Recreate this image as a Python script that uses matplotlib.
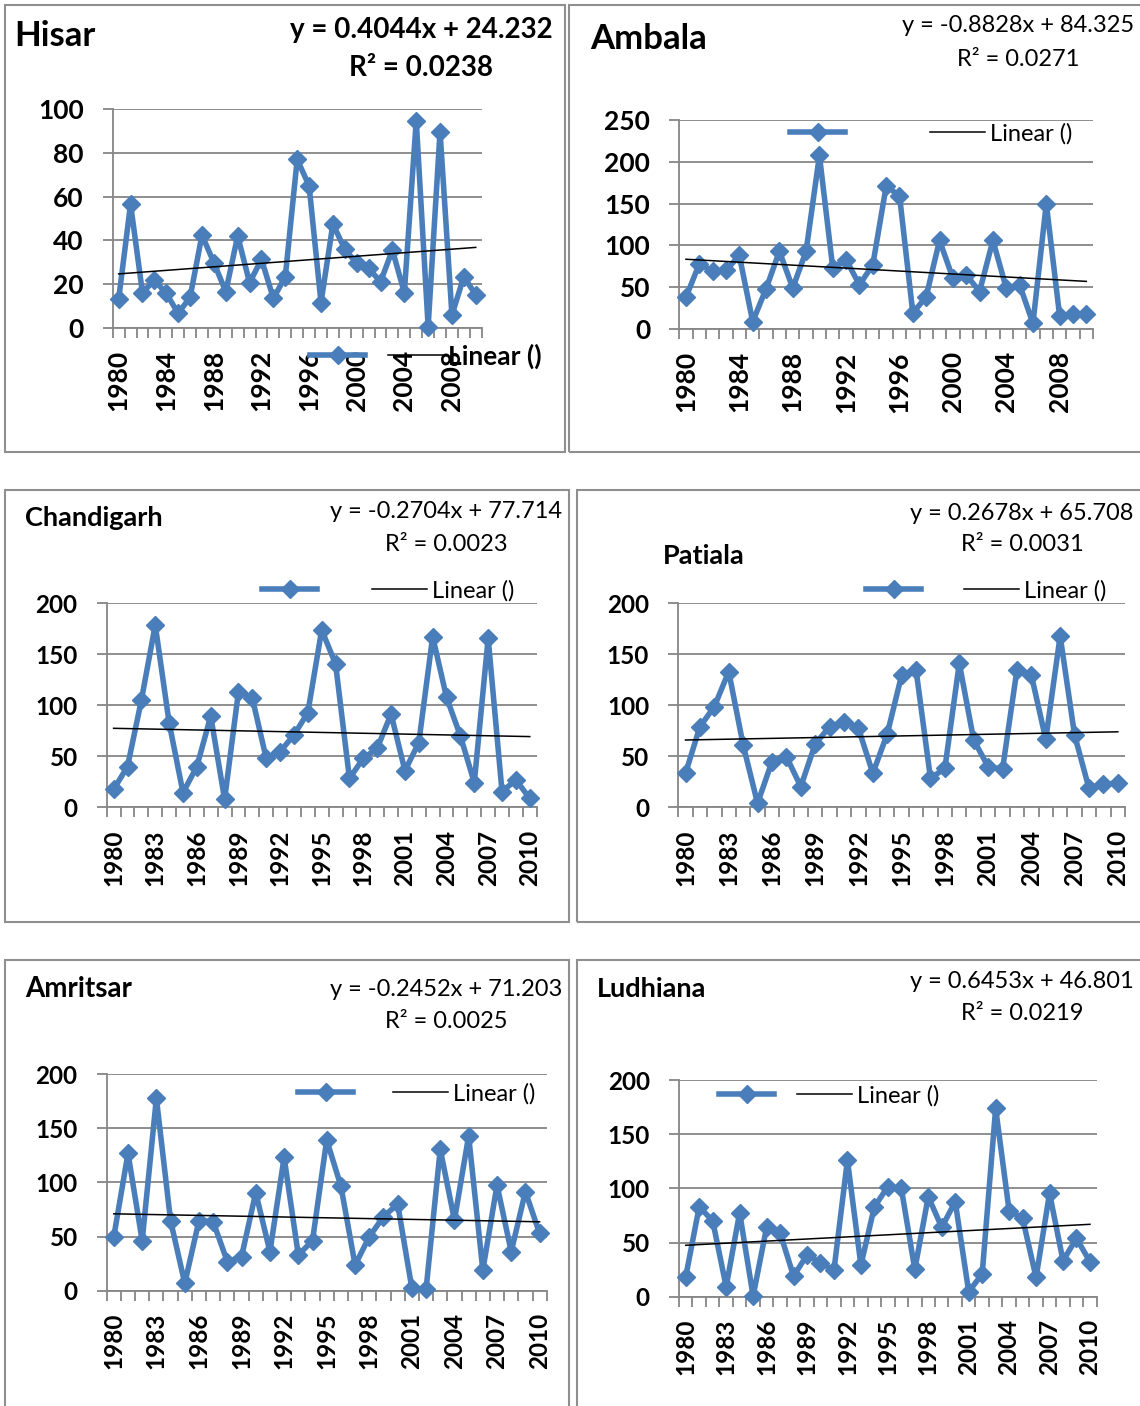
import numpy as np
import matplotlib
matplotlib.use('Agg')
import matplotlib.pyplot as plt
from matplotlib.lines import Line2D
from matplotlib.patches import Rectangle

W, H = 1140, 1406

# rainfall per station, 1980-2010
years = list(range(1980, 2011))
hisar = [13, 56.6, 16, 21.8, 15.7, 6.6, 13.9, 42.4, 29.8, 16.5, 42, 20.6, 31.3, 13.4, 23.4, 77.1,
         64.9, 11.5, 47.5, 35.9, 29.5, 27.2, 21, 35.6, 16, 94.8, 0.5, 89.8, 5.8, 23.4, 15]
ambala = [38, 78, 69, 70, 88, 8.8, 48, 93, 49, 93, 207.6, 72.8, 82.8, 52.8, 76.8, 170.8,
          159.6, 18.8, 38.8, 106, 60.8, 64.8, 44.8, 106, 48.8, 52.8, 6.8, 150, 15.6, 18, 18]
chandigarh = [17.6, 39.9, 105, 178.8, 83, 14.4, 39.9, 89.5, 7.8, 113.4, 106.9, 48, 54.6, 70.9, 92.8, 173.9,
              140.5, 28.4, 48, 57.8, 91.5, 35.9, 63.4, 167.3, 107.8, 69.9, 24.2, 165.7, 15.4, 26.8, 8.8]
patiala = [33.3, 79, 98.7, 133, 61.1, 3.9, 44.8, 49.7, 20.3, 62.1, 79, 84, 77.5, 33.3, 71.9, 129.7,
           134.6, 28.4, 38.2, 141.2, 66, 39.9, 37.3, 134.6, 129.7, 66.7, 168, 70.9, 18.6, 22.9, 23.5]
amritsar = [49.8, 126.8, 46.2, 177.5, 64.6, 6.8, 64.6, 63.7, 26.8, 31.4, 90.5, 36, 123, 32.9, 46.2, 139,
            96.6, 23.7, 49.8, 68.3, 80, 2.2, 1.2, 130.5, 65.2, 142.8, 19, 97.5, 36, 91.4, 52.9]
ludhiana = [18.5, 83, 70, 9.2, 77.5, 0.6, 64, 59, 19, 38.5, 31.4, 24.6, 126, 29.2, 83, 101.5,
            100, 25.2, 92.3, 64, 87.7, 4.6, 20.9, 173.8, 79.4, 72.3, 17.8, 95.4, 33.2, 53.8, 32.3]

stations = ['Hisar', 'Ambala', 'Chandigarh', 'Patiala', 'Amritsar', 'Ludhiana']
series = [hisar, ambala, chandigarh, patiala, amritsar, ludhiana]
slopes = [0.4044, -0.8828, -0.2704, 0.2678, -0.2452, 0.6453]
intercepts = [24.232, 84.325, 77.714, 65.708, 71.203, 46.801]
r_squared = ['0.0238', '0.0271', '0.0023', '0.0031', '0.0025', '0.0219']
y_max = [100, 250, 200, 200, 200, 200]
y_step = [20, 50, 50, 50, 50, 50]
label_every = [4, 4, 3, 3, 3, 3]

# layout, in pixels of the 1140x1406 picture
frames = [(5, 5, 565, 452), (569, 5, 1145, 452), (5, 490, 569, 922),
          (577, 490, 1145, 922), (5, 960, 569, 1412), (577, 960, 1145, 1412)]
plot_areas = [(112.7, 109.3, 481.7, 327.7), (679.3, 120, 1093, 329), (106.7, 603.3, 536.7, 807.3),
              (678.3, 603.3, 1125, 807.3), (106.7, 1074, 546.7, 1290.7), (679, 1080, 1096.7, 1296.7)]
title_pos = [(14, 36), (590, 39), (25, 518), (663, 556), (25, 989), (597, 989)]
title_size = [25, 25, 19.5, 19.5, 20, 19.5]
eq_pos = [(421, 30, 68), (1018, 26, 59), (446, 511, 544), (1022, 514, 545), (446, 989, 1021), (1022, 982, 1014)]
eq_size = [20, 17, 17, 17, 17, 17]
eq_bold = [True, False, False, False, False, False]
# legend: blue sample start, black sample start, centre y
leg_pos = [(310, 388, 356), (790, 930, 134), (262, 372, 591), (866, 964, 591), (298, 393, 1094), (719, 797, 1096)]
leg_size = [19, 17, 17, 17, 17, 17]
tick_size = [19, 19, 17.5, 17.5, 17.5, 17.5]

BLUE = '#4A7EBB'
GRID = '#868686'
plt.rcParams['font.family'] = ['Lato', 'DejaVu Sans']


def rect(x0, y0, x1, y1):
    return [x0 / W, 1 - y1 / H, (x1 - x0) / W, (y1 - y0) / H]


fig = plt.figure(figsize=(W / 100, H / 100), dpi=100)

for i, name in enumerate(stations):
    x0, y0, x1, y1 = frames[i]
    fig.patches.append(Rectangle((x0 / W, 1 - y1 / H), (x1 - x0) / W, (y1 - y0) / H,
                                 transform=fig.transFigure, fill=False,
                                 edgecolor='#8f8f8f', lw=1.5))

    ax = fig.add_axes(rect(*plot_areas[i]))
    vals = np.array(series[i])
    n = len(vals)
    idx = np.arange(n)

    ax.plot(idx, vals, color=BLUE, lw=4, marker='D', ms=9, mew=1, clip_on=False, zorder=3)
    trend = slopes[i] * (idx + 1) + intercepts[i]
    ax.plot(idx, trend, color='black', lw=1.1, zorder=4)

    ax.set_xlim(-0.5, n - 0.5)
    ax.set_ylim(0, y_max[i])
    ax.set_yticks(np.arange(0, y_max[i] + 1, y_step[i]))
    ax.set_xticks(idx[::label_every[i]])
    ax.set_xticklabels([str(years[k]) for k in idx[::label_every[i]]], rotation=90,
                       fontsize=tick_size[i], fontweight='bold')
    ax.set_xticks(np.arange(-0.5, n, 1), minor=True)
    for lab in ax.get_yticklabels():
        lab.set_fontsize(tick_size[i])
        lab.set_fontweight('bold')
    ax.tick_params(axis='x', which='major', length=0, pad=16)
    ax.tick_params(axis='x', which='minor', length=7, color=GRID, width=1.3)
    ax.tick_params(axis='y', length=7, color=GRID, width=1.3, pad=14)
    ax.yaxis.grid(True, color=GRID, lw=1.3)
    ax.set_axisbelow(True)
    for s in ['top', 'right']:
        ax.spines[s].set_visible(False)
    for s in ['left', 'bottom']:
        ax.spines[s].set_color(GRID)
        ax.spines[s].set_linewidth(1.3)

    tx, ty = title_pos[i]
    fig.text(tx / W, 1 - ty / H, name, fontsize=title_size[i], fontweight='bold',
             ha='left', va='center')

    ex, ey1, ey2 = eq_pos[i]
    sign = '-' if slopes[i] < 0 else ''
    w = 'bold' if eq_bold[i] else 'normal'
    fig.text(ex / W, 1 - ey1 / H, 'y = %s%.4fx + %.3f' % (sign, abs(slopes[i]), intercepts[i]),
             fontsize=eq_size[i], fontweight=w, ha='center', va='center')
    fig.text(ex / W, 1 - ey2 / H, 'R² = ' + r_squared[i],
             fontsize=eq_size[i], fontweight=w, ha='center', va='center')

    bx, kx, ly = leg_pos[i]
    fs_px = leg_size[i] * 100 / 72
    hl = 55 / fs_px
    cs = (kx - bx - 55 - 0.2 * fs_px) / fs_px
    handles = [Line2D([], [], color=BLUE, lw=4, marker='D', ms=9),
               Line2D([], [], color='black', lw=1.1)]
    leg = ax.legend(handles, ['', 'Linear ()'], loc='center left',
                    bbox_to_anchor=(bx / W, 1 - ly / H), bbox_transform=fig.transFigure,
                    ncol=2, frameon=False, borderpad=0, borderaxespad=0,
                    handlelength=hl, handletextpad=0.2, columnspacing=cs,
                    prop={'size': leg_size[i], 'weight': 'bold' if i == 0 else 'normal'})
    leg.set_zorder(5)

fig.savefig('out.png', dpi=100)
